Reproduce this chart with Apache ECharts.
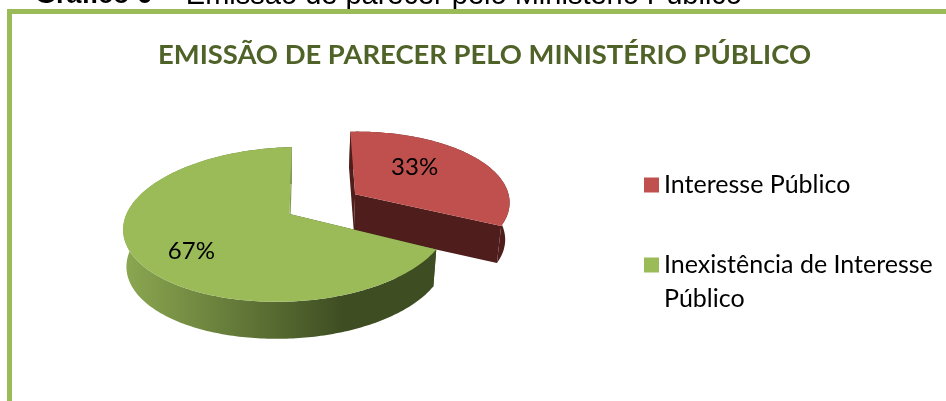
<!DOCTYPE html>
<html><head><meta charset="utf-8">
<style>html,body{margin:0;padding:0;background:#fff}#c{width:946px;height:401px}</style>
<script src="https://cdn.jsdelivr.net/npm/echarts@6/dist/echarts.min.js"></script>
</head><body><div id="c"></div>
<script>
const categories = ['Interesse Público', 'Inexistência de Interesse Público'];
const shares = [33, 67];
const labels = ['33%', '67%'];
const topColors = ['#C0504D', '#9BBB59'];
const title = 'EMISSÃO DE PARECER PELO MINISTÉRIO PÚBLICO';
const captionHead = 'Gráfico 6';
const captionTail = '  - Emissão de parecer pelo Ministério Público';

// projection of the tilted disc (view only)
const view = {x0:289.5, y0:214, AL:163, AR:159, S:-11, B:76, k:0.135, depth:37, shrink:0.98, startDeg:26, explode:0.49, labelAt:[[0.812,-0.674],[-0.534,0.457]]};
const project = (u, v, low) => {
  const d = 1 - view.k * v;
  const A = u > 0 ? view.AR : view.AL;
  let x = (A * u + view.S * v) / d, y = view.B * v / d;
  if (low) { x *= view.shrink; y += view.depth; }
  return [view.x0 + x, view.y0 + y];
};
const total = shares.reduce((a, b) => a + b, 0);
function sliceAngles(i) {
  const g = shares[1] / total * 360, r = shares[0] / total * 360;
  return i === 1 ? [view.startDeg, view.startDeg + g] : [view.startDeg + g, view.startDeg + g + r];
}
function renderSlice(idx) {
  return function (params, api) {
    const [a0, a1] = sliceAngles(idx);
    const mid = (a0 + a1) / 2 * Math.PI / 180;
    const e = idx === 0 ? view.explode : 0;
    const ou = e * Math.cos(mid), ov = e * Math.sin(mid);
    const rim = [], rimLow = [];
    for (let a = a0; a <= a1 + 0.001; a += 1) {
      const t = a * Math.PI / 180;
      const u = ou + Math.cos(t), v = ov + Math.sin(t);
      rim.push(project(u, v, false));
      rimLow.push(project(u, v, true));
    }
    const apex = project(ou, ov, false), apexLow = project(ou, ov, true);
    const sidePts = rim.concat(rimLow.slice().reverse());
    const sideFill = idx === 0 ? '#4F1E1C' : {
      type: 'linear', x: 128, y: 0, x2: 345, y2: 0, global: true,
      colorStops: [{offset: 0, color: '#8AA650'}, {offset: 1, color: '#3E4D22'}]
    };
    const wall = idx === 0 ? '#4F1E1C' : '#7F9A48';
    const children = [
      {type:'polygon', shape:{points:sidePts}, style:{fill:sideFill}},
      {type:'polygon', shape:{points:[apex, rim[rim.length-1], rimLow[rimLow.length-1], apexLow]}, style:{fill:wall}},
      {type:'polygon', shape:{points:[apex, rim[0], rimLow[0], apexLow]}, style:{fill: idx === 0 ? wall : '#3E4D22'}},
      {type:'polygon', shape:{points:[apex].concat(rim)}, style:{fill:api.visual('color')}}
    ];
    const p = project(view.labelAt[idx][0], view.labelAt[idx][1], false);
    children.push({type:'text', x:p[0], y:p[1], style:{text:labels[idx], fill:'#000', fontFamily:'Lato', fontSize:24, align:'center', verticalAlign:'middle'}});
    return {type:'group', children};
  };
}
const legendText = {fontFamily:'Lato', fontSize:25, color:'#000', lineHeight:34};
const chart = echarts.init(document.getElementById('c'), null, {renderer:'canvas'});
chart.setOption({
  animation:false,
  backgroundColor:'#fff',
  title:{text:title, left:158, top:42, padding:0, textStyle:{fontFamily:'Lato', fontSize:27.4, fontWeight:'bold', color:'#4F6228'}},
  legend:[
    {data:[categories[0]], orient:'vertical', left:644, top:168, padding:0, itemWidth:15, itemHeight:15, icon:'rect', itemGap:0, textStyle:legendText},
    {data:[categories[1]], orient:'vertical', left:644, top:214, padding:0, itemWidth:15, itemHeight:15, icon:'rect', itemGap:0,
     formatter:()=>'\nInexistência de Interesse\nPúblico', textStyle:legendText}
  ],
  graphic:[
    {type:'text', z:1, left:35, top:-19, style:{text:'{b|'+captionHead+'}{n|'+captionTail+'}', rich:{
       b:{fontFamily:'Liberation Sans', fontSize:27, fontWeight:'bold', fill:'#000', color:'#000'},
       n:{fontFamily:'Liberation Sans', fontSize:29, fill:'#000', color:'#000'}}}},
    {type:'rect', z:2, shape:{x:9.5,y:11.5,width:960,height:420}, style:{fill:'rgba(0,0,0,0)',stroke:'#9BBB59',lineWidth:5}}
  ],
  series: categories.map((name,i)=>({
    type:'custom', name, coordinateSystem:'none', renderItem:renderSlice(i),
    data:[[shares[i]]], itemStyle:{color:topColors[i]}, silent:true, z: i===0?2:3
  }))
});
</script></body></html>
